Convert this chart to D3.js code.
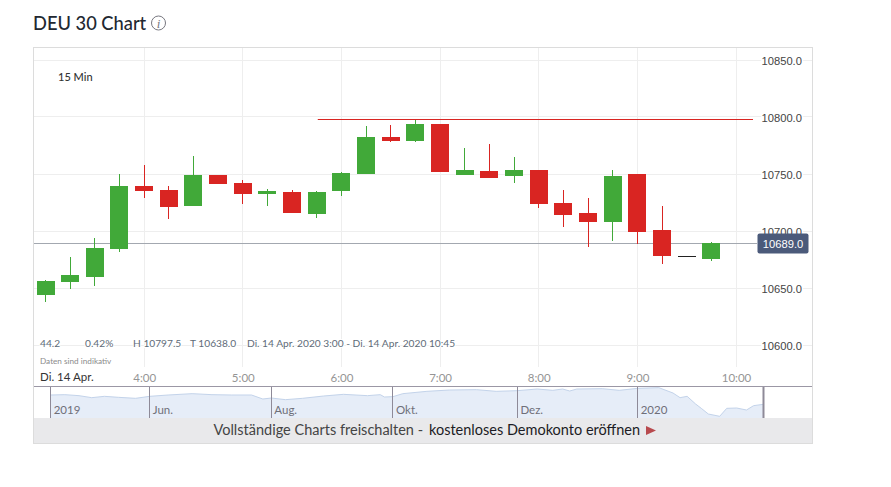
<!DOCTYPE html>
<html>
<head>
<meta charset="utf-8">
<script src="https://cdn.jsdelivr.net/npm/d3@7"></script>
<style>
  html, body { margin: 0; padding: 0; background: #fff; }
  svg { display: block; font-family: Lato, "Open Sans", sans-serif; }
</style>
</head>
<body>
<div id="container"></div>
<script>
const times = ["3:00","3:15","3:30","3:45","4:00","4:15","4:30","4:45","5:00","5:15","5:30","5:45","6:00","6:15","6:30","6:45","7:00","7:15","7:30","7:45","8:00","8:15","8:30","8:45","9:00","9:15","9:30","9:45"];
const opens = [10644.3,10655.8,10660.1,10684.7,10740,10736.4,10722.4,10749.6,10742.6,10732.9,10734.7,10715.4,10735.5,10750.5,10782.9,10779.4,10794.3,10749.6,10753.1,10748.7,10754,10725,10716.2,10708.4,10750.5,10701.3,10678.5,10675.9];
const closes = [10656.6,10661.9,10685.6,10740,10735.5,10721.5,10749.6,10741.7,10732.9,10735.5,10716.2,10734.7,10751.3,10782.9,10779.4,10794.3,10752.2,10754,10747,10754,10724.1,10714.5,10708.4,10748.7,10699.6,10678.5,10678.5,10690];
const highs = [10657.5,10677.6,10694.3,10750.5,10758.3,10740,10766.2,10749.6,10745.2,10737.3,10736.4,10735.5,10752.2,10792.5,10793.4,10797.5,10794.3,10773.2,10776.8,10765.4,10754,10736.4,10729.4,10754,10750.5,10722.4,10678.5,10690.8];
const lows = [10638,10649.6,10652.2,10682,10729.4,10711,10722.4,10741.7,10724.1,10722.4,10716.2,10711.9,10731.2,10750.5,10778.5,10778.5,10752.2,10749.6,10747,10742.6,10720.6,10704,10686.5,10691.7,10689.1,10671.5,10678.5,10674.1];

const priceTicks = [10600,10650,10700,10750,10800,10850];
const hourTicks = ["4:00","5:00","6:00","7:00","8:00","9:00","10:00"];
const lastPrice = 10689;
const highPrice = 10797.5;
const highLineStart = "5:45";

const navSessions = [0,5,10,14.5,19,24,30,35,41.5,50,57,64,71,75,78,83,89,96.5,103.5,112,116.5,118,121,124.5,133,141,150.5,157.5,165,172,177.5,181,183.5,186,195,201,207.5,215,220,222.5,225,228,230,232.5,236.5,239,242.5,246,248.5,252];
const navValues = [12428,12490,12303,11929,12179,11992,11805,12179,12428,12677,12490,12428,12428,11680,11867,11555,11805,12241,12553,12303,12490,12054,12116,12677,13114,13363,13425,13114,13238,13550,13301,13550,13176,13550,13612,13301,13675,13799,12802,11929,12179,10745,9935,8875,8441,9935,9997,9623,10433,10689];
const navTickSessions = [0,35,78,121,165,207.5,252];
const navTickLabels = ["2019","Jun.","Aug.","Okt.","Dez.","2020",""];

const width = 891;
const height = 487;
const frame = { left: 33.5, right: 812.5, top: 47.5, bottom: 443.5 };
const plot = { gridBottom: 367, axisY: 386.5, navBottom: 418 };
const green = "#41a939";
const red = "#d92522";
const gridColor = "#eeeeee";

const parseTime = (t) => {
  const p = t.split(":");
  return new Date(2020, 3, 14, +p[0], +p[1]);
};

const svg = d3.select("#container")
              .append("svg")
              .attr("width", width)
              .attr("height", height);

const xScale = d3.scaleTime()
                 .domain([parseTime("3:00"), parseTime("10:00")])
                 .range([45.5, 736]);
const yScale = d3.scaleLinear()
                 .domain([10600, 10850])
                 .range([345, 60]);
const snap = (v) => Math.floor(v) + 0.5;

svg.append("text")
   .text("DEU 30 Chart")
   .attr("x", 33)
   .attr("y", 29.5)
   .attr("font-size", 18.3)
   .attr("font-weight", 500)
   .attr("fill", "#222831");
svg.append("circle")
   .attr("cx", 158.5)
   .attr("cy", 23)
   .attr("r", 7)
   .attr("fill", "none")
   .attr("stroke", "#77777f");
svg.append("text")
   .text("i")
   .attr("x", 158.5)
   .attr("y", 27.5)
   .attr("text-anchor", "middle")
   .attr("font-size", 13)
   .attr("font-style", "italic")
   .attr("font-family", "'Liberation Serif', serif")
   .attr("fill", "#77777f");

// grid
svg.append("g")
   .selectAll("line")
   .data(priceTicks)
   .enter()
   .append("line")
   .attr("x1", frame.left)
   .attr("x2", frame.right)
   .attr("y1", (d) => snap(yScale(d)))
   .attr("y2", (d) => snap(yScale(d)))
   .attr("stroke", gridColor);
svg.append("g")
   .selectAll("line")
   .data(hourTicks)
   .enter()
   .append("line")
   .attr("x1", (d) => snap(xScale(parseTime(d))))
   .attr("x2", (d) => snap(xScale(parseTime(d))))
   .attr("y1", frame.top)
   .attr("y2", plot.gridBottom)
   .attr("stroke", gridColor);

// y axis labels
const yAxis = d3.axisRight(yScale)
                .tickValues(priceTicks)
                .tickSize(0)
                .tickFormat(d3.format(".1f"));
const yAxisG = svg.append("g")
                  .attr("id", "y-axis")
                  .attr("transform", "translate(758, 0.6)")
                  .call(yAxis);
yAxisG.select(".domain").remove();
yAxisG.selectAll("text")
      .attr("x", 3.5)
      .attr("font-family", "'Liberation Sans', Arial, sans-serif")
      .attr("font-size", 11.2)
      .attr("fill", "#444444")
      .style("paint-order", "stroke")
      .attr("stroke", "#fff")
      .attr("stroke-width", 3);

// last price and high lines
svg.append("line")
   .attr("x1", frame.left)
   .attr("x2", 757)
   .attr("y1", snap(yScale(lastPrice)))
   .attr("y2", snap(yScale(lastPrice)))
   .attr("stroke", "#a3a8b0");
svg.append("line")
   .attr("x1", xScale(parseTime(highLineStart)) + 1)
   .attr("x2", 753)
   .attr("y1", snap(yScale(highPrice)))
   .attr("y2", snap(yScale(highPrice)))
   .attr("stroke", red);

// candles
const candles = times.map((t, i) => ({ time: parseTime(t), open: opens[i], close: closes[i], high: highs[i], low: lows[i] }));
const candleColor = (d) => {
  if(d.close > d.open) {
    return green;
  } else if(d.close < d.open) {
    return red;
  } else {
    return "#222222";
  }
};
const candleG = svg.append("g").attr("shape-rendering", "crispEdges");
candleG.selectAll("line")
       .data(candles)
       .enter()
       .append("line")
       .attr("x1", (d) => snap(xScale(d.time)))
       .attr("x2", (d) => snap(xScale(d.time)))
       .attr("y1", (d) => yScale(d.high) + 0.5)
       .attr("y2", (d) => yScale(d.low) + 0.5)
       .attr("stroke", candleColor);
candleG.selectAll("rect")
       .data(candles)
       .enter()
       .append("rect")
       .attr("x", (d) => Math.round(xScale(d.time)) - 9)
       .attr("width", 18)
       .attr("y", (d) => yScale(Math.max(d.open, d.close)) + 0.5)
       .attr("height", (d) => Math.max(1, Math.abs(yScale(d.open) - yScale(d.close))))
       .attr("fill", candleColor);

// price tag
svg.append("rect")
   .attr("x", 757.5)
   .attr("y", yScale(lastPrice) - 10)
   .attr("width", 51)
   .attr("height", 20)
   .attr("rx", 2)
   .attr("fill", "#4b5a7a");
svg.append("text")
   .text(d3.format(".1f")(lastPrice))
   .attr("x", 783)
   .attr("y", yScale(lastPrice) + 4.5)
   .attr("text-anchor", "middle")
   .attr("font-family", "'Liberation Sans', Arial, sans-serif")
   .attr("font-size", 11.2)
   .attr("fill", "#ffffff");

// info texts
svg.append("text")
   .text("15 Min")
   .attr("x", 58)
   .attr("y", 81)
   .attr("font-size", 11)
   .attr("font-weight", 500)
   .attr("fill", "#333333");
const infoRow = [
  { text: "44.2", x: 40 },
  { text: "0.42%", x: 85 },
  { text: "H 10797.5", x: 133 },
  { text: "T 10638.0", x: 190 },
  { text: "Di. 14 Apr. 2020 3:00 - Di. 14 Apr. 2020 10:45", x: 247 }
];
svg.append("g")
   .selectAll("text")
   .data(infoRow)
   .enter()
   .append("text")
   .text((d) => d.text)
   .attr("x", (d) => d.x)
   .attr("y", 347)
   .attr("font-size", 10.2)
   .attr("fill", "#5e6b78")
   .style("paint-order", "stroke")
   .attr("stroke", "#fff")
   .attr("stroke-width", 2);
svg.append("text")
   .text("Daten sind indikativ")
   .attr("x", 40)
   .attr("y", 363.5)
   .attr("font-size", 8.2)
   .attr("fill", "#8b8b8b");

// time axis
const xAxis = d3.axisBottom(xScale)
                .tickValues(hourTicks.map(parseTime))
                .tickSize(0)
                .tickFormat(d3.timeFormat("%-H:%M"));
const xAxisG = svg.append("g")
                  .attr("id", "x-axis")
                  .attr("transform", "translate(0, 369.5)")
                  .call(xAxis);
xAxisG.select(".domain").remove();
xAxisG.selectAll("text")
      .attr("y", 4)
      .attr("font-family", "Lato, sans-serif")
      .attr("font-size", 11.5)
      .attr("fill", "#959595");
svg.append("text")
   .text("Di. 14 Apr.")
   .attr("x", 40)
   .attr("y", 381)
   .attr("font-size", 11.5)
   .attr("fill", "#333333");

// navigator
const navX = d3.scaleLinear().domain([0, 252]).range([50.7, 763.5]);
const navY = d3.scaleLinear().domain([8127, 14111]).range([418, 386]);
const navArea = d3.area()
                  .x((d) => navX(d[0]))
                  .y0(plot.navBottom)
                  .y1((d) => navY(d[1]));
const navLine = d3.line()
                  .x((d) => navX(d[0]))
                  .y((d) => navY(d[1]));
const navData = navSessions.map((s, i) => [s, navValues[i]]);
svg.append("path")
   .datum(navData)
   .attr("d", navArea)
   .attr("fill", "#e6edf8");
svg.append("path")
   .datum(navData)
   .attr("d", navLine)
   .attr("fill", "none")
   .attr("stroke", "#c3d3ea");
svg.append("g")
   .selectAll("line")
   .data(navTickSessions)
   .enter()
   .append("line")
   .attr("x1", (d) => snap(navX(d)))
   .attr("x2", (d) => snap(navX(d)))
   .attr("y1", plot.axisY)
   .attr("y2", plot.navBottom)
   .attr("stroke", "#8e8a98")
   .attr("stroke-width", (d) => d === 252 ? 2 : 1);
svg.append("g")
   .selectAll("text")
   .data(navTickSessions)
   .enter()
   .append("text")
   .text((d, i) => navTickLabels[i])
   .attr("x", (d) => navX(d) + 3)
   .attr("y", 414)
   .attr("font-size", 11.5)
   .attr("fill", "#6f6f78");
svg.append("line")
   .attr("x1", frame.left)
   .attr("x2", frame.right)
   .attr("y1", plot.axisY)
   .attr("y2", plot.axisY)
   .attr("stroke", "#9b97a5");

// banner
svg.append("rect")
   .attr("x", frame.left)
   .attr("y", plot.navBottom)
   .attr("width", frame.right - frame.left)
   .attr("height", frame.bottom - plot.navBottom)
   .attr("fill", "#e9e9eb");
svg.append("text")
   .text("Vollständige Charts freischalten -")
   .attr("x", 213.5)
   .attr("y", 435)
   .attr("font-size", 14.5)
   .attr("fill", "#444444");
svg.append("text")
   .text("kostenloses Demokonto eröffnen")
   .attr("x", 429)
   .attr("y", 435)
   .attr("font-size", 14.5)
   .attr("fill", "#1c1c24");
svg.append("path")
   .attr("d", d3.line()([[646, 426], [656, 430.5], [646, 435]]))
   .attr("fill", "#b84a4e");

// frame
svg.append("rect")
   .attr("x", frame.left)
   .attr("y", frame.top)
   .attr("width", frame.right - frame.left)
   .attr("height", frame.bottom - frame.top)
   .attr("fill", "none")
   .attr("stroke", "#dcdcdc");
</script>
</body>
</html>
